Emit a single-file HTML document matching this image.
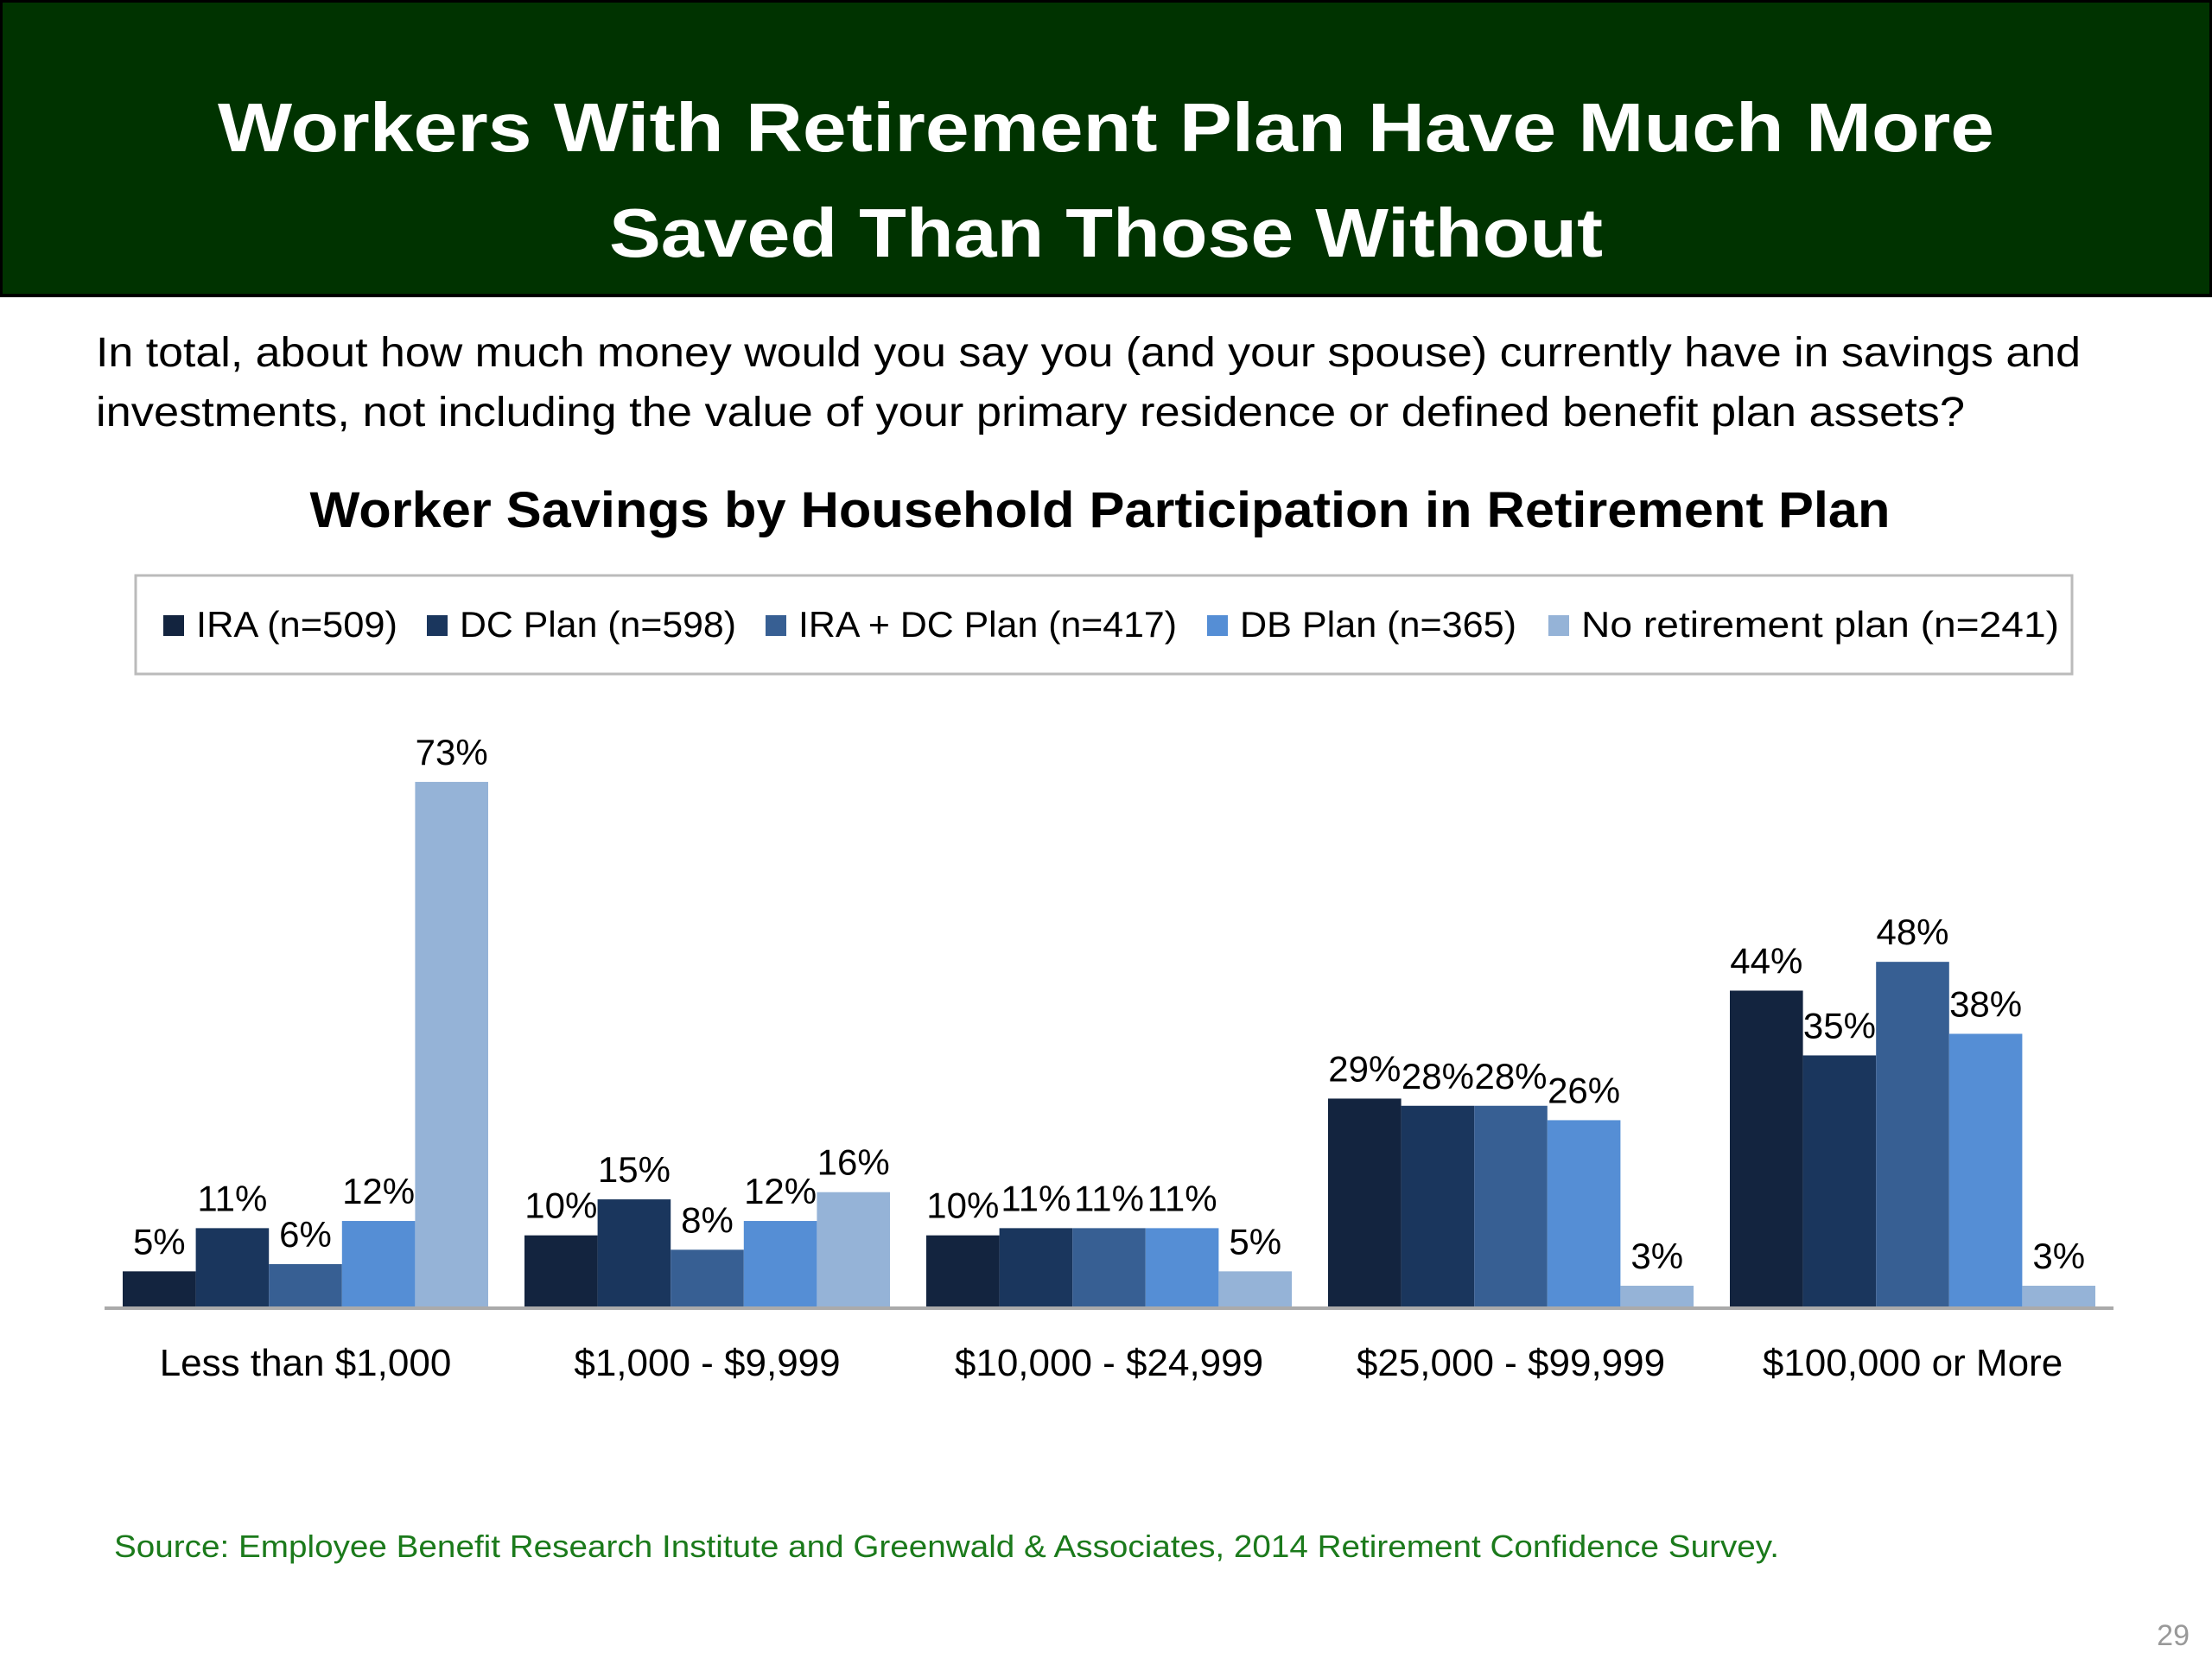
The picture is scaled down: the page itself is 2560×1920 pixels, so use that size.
<!DOCTYPE html>
<html><head><meta charset="utf-8"><style>
html,body{margin:0;padding:0;background:#fff;width:2560px;height:1920px;overflow:hidden}
svg{display:block}
text{font-family:"Liberation Sans",sans-serif}
</style></head><body>
<svg id="chart" width="2560" height="1920" viewBox="0 0 2560 1920" xmlns="http://www.w3.org/2000/svg">
<rect x="1" y="1" width="2558" height="341" fill="#003300" stroke="#000" stroke-width="4"/>
<text x="1280" y="175" text-anchor="middle" font-size="80" font-weight="bold" fill="#fff" textLength="2056" lengthAdjust="spacingAndGlyphs">Workers With Retirement Plan Have Much More</text>
<text x="1280" y="297" text-anchor="middle" font-size="80" font-weight="bold" fill="#fff" textLength="1150" lengthAdjust="spacingAndGlyphs">Saved Than Those Without</text>
<text x="111" y="424" font-size="48" fill="#000" textLength="2297" lengthAdjust="spacingAndGlyphs">In total, about how much money would you say you (and your spouse) currently have in savings and</text>
<text x="111" y="493" font-size="48" fill="#000" textLength="2163" lengthAdjust="spacingAndGlyphs">investments, not including the value of your primary residence or defined benefit plan assets?</text>
<text x="1273" y="610" text-anchor="middle" font-size="58" font-weight="bold" fill="#000" textLength="1829" lengthAdjust="spacingAndGlyphs">Worker Savings by Household Participation in Retirement Plan</text>
<rect x="157" y="666" width="2241" height="114" fill="#fff" stroke="#bbb" stroke-width="3"/>
<g id="legend"></g>
<g id="bars"></g>
<line x1="121" y1="1514" x2="2446" y2="1514" stroke="#aaa" stroke-width="4"/>
<g id="cats"></g>
<text x="132" y="1802" font-size="36" fill="#1b7a1b" textLength="1927" lengthAdjust="spacingAndGlyphs">Source:  Employee Benefit Research Institute and Greenwald &amp; Associates, 2014 Retirement Confidence Survey.</text>
<text x="2534" y="1904" text-anchor="end" font-size="34" fill="#999">29</text>
</svg>
<script>
const categories = ["Less than $1,000","$1,000 - $9,999","$10,000 - $24,999","$25,000 - $99,999","$100,000 or More"];
const seriesNames = ["IRA (n=509)","DC Plan (n=598)","IRA + DC Plan (n=417)","DB Plan (n=365)","No retirement plan (n=241)"];
const ira = [5,10,10,29,44];
const dcPlan = [11,15,11,28,35];
const iraDc = [6,8,11,28,48];
const dbPlan = [12,12,11,26,38];
const noPlan = [73,16,5,3,3];
const series = [ira, dcPlan, iraDc, dbPlan, noPlan];
const colors = ["#13243f","#1a365d","#375f93","#558ed5","#95b3d7"];
const NS = "http://www.w3.org/2000/svg";
const plotL = 121, plotR = 2446, base = 1513, pxPer = 8.33;
const catW = (plotR - plotL) / categories.length;
const barW = 84.6;
function yScale(v){ return base - v * pxPer; }
function xBar(ci, si){ return plotL + ci*catW + (catW - barW*series.length)/2 + si*barW; }
function mk(tag, attrs){ const e = document.createElementNS(NS, tag); for (const k in attrs) e.setAttribute(k, attrs[k]); return e; }
const barsG = document.getElementById('bars');
series.forEach((vals, si) => {
  vals.forEach((v, ci) => {
    const x = xBar(ci, si), y = yScale(v);
    const r = mk('rect', {x:x, y:y, width:barW, height:base-y, fill:colors[si]});
    
    
    barsG.appendChild(r);
    const t = mk('text', {x:x+barW/2, y:y-20, 'text-anchor':'middle', 'font-size':42, fill:'#000'});
    t.textContent = v + '%';
    
    
    barsG.appendChild(t);
  });
});
const catG = document.getElementById('cats');
categories.forEach((c, ci) => {
  const t = mk('text', {x:plotL + ci*catW + catW/2, y:1592, 'text-anchor':'middle', 'font-size':44, fill:'#000'});
  t.textContent = c;
  
  
  catG.appendChild(t);
});
const legG = document.getElementById('legend');
const legMarkX = [189, 494, 886, 1397, 1792];
const legTextW = [233, 320, 438, 320, 553];
seriesNames.forEach((n, i) => {
  const m = mk('rect', {x:legMarkX[i], y:712, width:24, height:24, fill:colors[i]});
  
  
  legG.appendChild(m);
  const t = mk('text', {x:legMarkX[i]+38, y:737, 'font-size':42, fill:'#000', textLength:legTextW[i], lengthAdjust:'spacingAndGlyphs'});
  t.textContent = n;
  
  
  legG.appendChild(t);
});
</script>
</body></html>
